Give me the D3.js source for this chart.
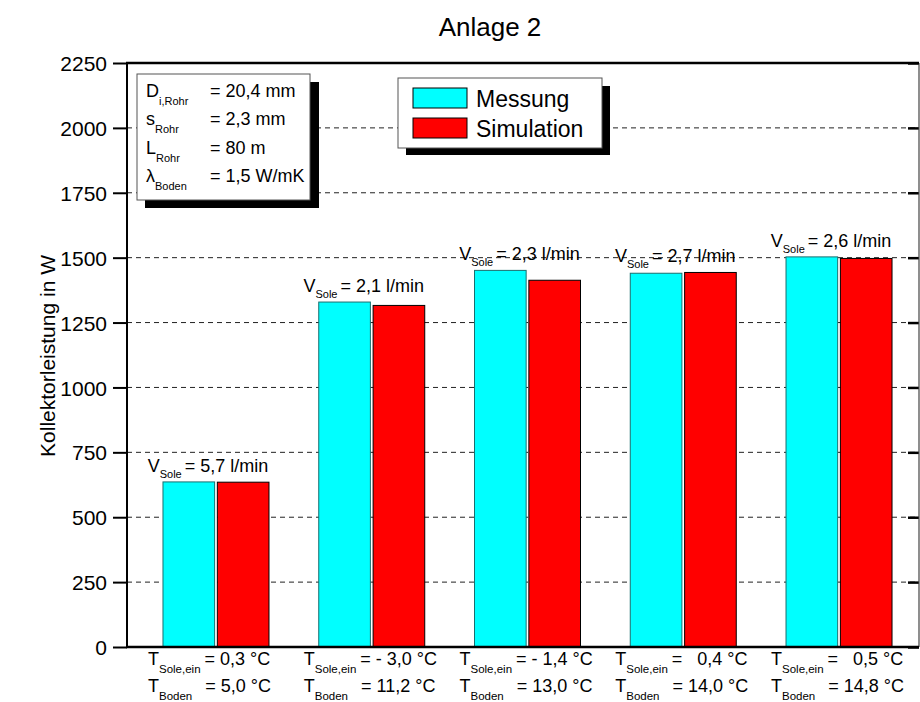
<!DOCTYPE html>
<html><head><meta charset="utf-8">
<script src="https://cdn.jsdelivr.net/npm/d3@7"></script>
<style>
body{margin:0;background:#fff;}
text{font-family:"Liberation Sans",Arial,Helvetica,sans-serif;fill:#000;white-space:pre;}
</style></head>
<body>
<svg id="chart" width="920" height="702"></svg>
<script>
// ---- data ----
const categories = ["A1","A2","A3","A4","A5"];
const seriesNames = ["Messung","Simulation"];
const messung = [636, 1329, 1451, 1440, 1503];
const simulation = [635, 1316, 1413, 1443, 1497];
const seriesColors = ["#00FFFF","#FF0000"];
const seriesStrokes = ["#1a6f6f","#000000"];
const yTicks = [0,250,500,750,1000,1250,1500,1750,2000,2250];
const vSole = ["= 5,7 l/min","= 2,1 l/min","= 2,3 l/min","= 2,7 l/min","= 2,6 l/min"];
const tSoleEin = ["= 0,3 °C","= - 3,0 °C","= - 1,4 °C","=   0,4 °C","=   0,5 °C"];
const tBoden = ["= 5,0 °C","= 11,2 °C","= 13,0 °C","= 14,0 °C","= 14,8 °C"];
const infoSymbols = ["D","s","L","λ"];
const infoSubs = ["i,Rohr","Rohr","Rohr","Boden"];
const infoValues = ["= 20,4 mm","= 2,3 mm","= 80 m","= 1,5 W/mK"];
const title = "Anlage 2";
const yLabel = "Kollektorleistung in W";

// ---- layout ----
const svg = d3.select("#chart");
const L = 127, R = 919, T = 63, B = 647;
const y = d3.scaleLinear().domain([0,2250]).range([B,T]);
const x = d3.scaleBand().domain(categories).range([138.1, 916.9]).padding(0);
const groupW = 106;
const xs = d3.scaleBand().domain(seriesNames).range([0,groupW]).paddingInner(0.05);
const values = [messung, simulation];

// title
svg.append("text").attr("x",490).attr("y",36).attr("text-anchor","middle")
  .attr("font-size",26).text(title);
// y label
svg.append("text").attr("transform","translate(55,356) rotate(-90)")
  .attr("text-anchor","middle").attr("font-size",21).text(yLabel);

// gridlines
svg.append("g").selectAll("line").data(yTicks.filter(d=>d>0 && d<2250)).join("line")
  .attr("x1",L).attr("x2",R).attr("y1",d=>y(d)).attr("y2",d=>y(d))
  .attr("stroke","#222").attr("stroke-width",1).attr("stroke-dasharray","5,4");

// bars
categories.forEach((c,i)=>{
  const gx = x(c) + (x.bandwidth()-groupW)/2;
  seriesNames.forEach((s,j)=>{
    svg.append("rect").attr("x",gx+xs(s)).attr("y",y(values[j][i]))
      .attr("width",xs.bandwidth()).attr("height",y(0)-y(values[j][i]))
      .attr("fill",seriesColors[j]).attr("stroke",seriesStrokes[j]).attr("stroke-width",1);
  });
});

// axes
const yAxis = d3.axisLeft(y).tickValues(yTicks).tickSize(14).tickPadding(6).tickFormat(d3.format("d"));
const ga = svg.append("g").attr("transform",`translate(${L},0)`).call(yAxis);
ga.select(".domain").remove();
ga.selectAll(".tick line").attr("stroke","#000").attr("stroke-width",2);
ga.selectAll(".tick text").attr("font-size",21).attr("font-family","Liberation Sans, Arial").attr("dy","0.36em");
const yAxisR = d3.axisLeft(y).tickValues(yTicks).tickSize(11).tickFormat("");
const gr = svg.append("g").attr("transform",`translate(${R},0)`).call(yAxisR);
gr.select(".domain").remove();
gr.selectAll(".tick line").attr("stroke","#000").attr("stroke-width",2.5).attr("x2",-11);

// frame
svg.append("line").attr("x1",R).attr("x2",R).attr("y1",T).attr("y2",B).attr("stroke","#444").attr("stroke-width",1.2);
svg.append("line").attr("x1",L-1).attr("x2",R).attr("y1",T).attr("y2",T).attr("stroke","#000").attr("stroke-width",2.5);
svg.append("line").attr("x1",L-1).attr("x2",R).attr("y1",B).attr("y2",B).attr("stroke","#000").attr("stroke-width",2.5);
svg.append("line").attr("x1",L).attr("x2",L).attr("y1",T).attr("y2",B).attr("stroke","#000").attr("stroke-width",2);

// V annotations
categories.forEach((c,i)=>{
  const cx = x(c) + x.bandwidth()/2;
  const top = Math.max(messung[i], simulation[i]);
  const t = svg.append("text").attr("x",cx-8).attr("y",y(top)-10)
    .attr("text-anchor","middle").attr("font-size",18);
  t.append("tspan").text("V");
  t.append("tspan").attr("font-size",11).attr("dy",6).text("Sole");
  t.append("tspan").attr("dy",-6).attr("dx",3).text(vSole[i]);
});

// bottom labels
categories.forEach((c,i)=>{
  const cx = x(c) + x.bandwidth()/2;
  const t1 = svg.append("text").attr("x",cx-68).attr("y",665).attr("font-size",18);
  t1.append("tspan").text("T");
  t1.append("tspan").attr("font-size",11.5).attr("dy",8).text("Sole,ein");
  t1.append("tspan").attr("dy",-8).attr("dx",4).text(tSoleEin[i]);
  const t2 = svg.append("text").attr("x",cx-68).attr("y",692).attr("font-size",18);
  t2.append("tspan").text("T");
  t2.append("tspan").attr("font-size",11.5).attr("dy",8).text("Boden");
  t2.append("tspan").attr("dy",-8).attr("dx",13).text(tBoden[i]);
});

// info box
const ib = svg.append("g");
ib.append("rect").attr("x",145).attr("y",82).attr("width",174).attr("height",126).attr("fill","#000");
ib.append("rect").attr("x",137).attr("y",74).attr("width",173).attr("height",126).attr("fill","#fff").attr("stroke","#555").attr("stroke-width",1);
infoSymbols.forEach((s,i)=>{
  const by = 97 + i*28.3;
  const t = ib.append("text").attr("x",146).attr("y",by).attr("font-size",18);
  t.append("tspan").text(s);
  t.append("tspan").attr("font-size",11).attr("dy",8).text(infoSubs[i]);
  ib.append("text").attr("x",210).attr("y",by).attr("font-size",18).text(infoValues[i]);
});

// legend
const lg = svg.append("g");
lg.append("rect").attr("x",406).attr("y",86).attr("width",204).attr("height",69).attr("fill","#000");
lg.append("rect").attr("x",398).attr("y",78).attr("width",204).attr("height",70).attr("fill","#fff").attr("stroke","#555").attr("stroke-width",1);
seriesNames.forEach((s,j)=>{
  const sy = 88 + j*30;
  lg.append("rect").attr("x",413).attr("y",sy).attr("width",54).attr("height",20)
    .attr("fill",seriesColors[j]).attr("stroke","#000").attr("stroke-width",1);
  lg.append("text").attr("x",476).attr("y",sy+19).attr("font-size",23).text(s);
});
</script>
</body></html>
